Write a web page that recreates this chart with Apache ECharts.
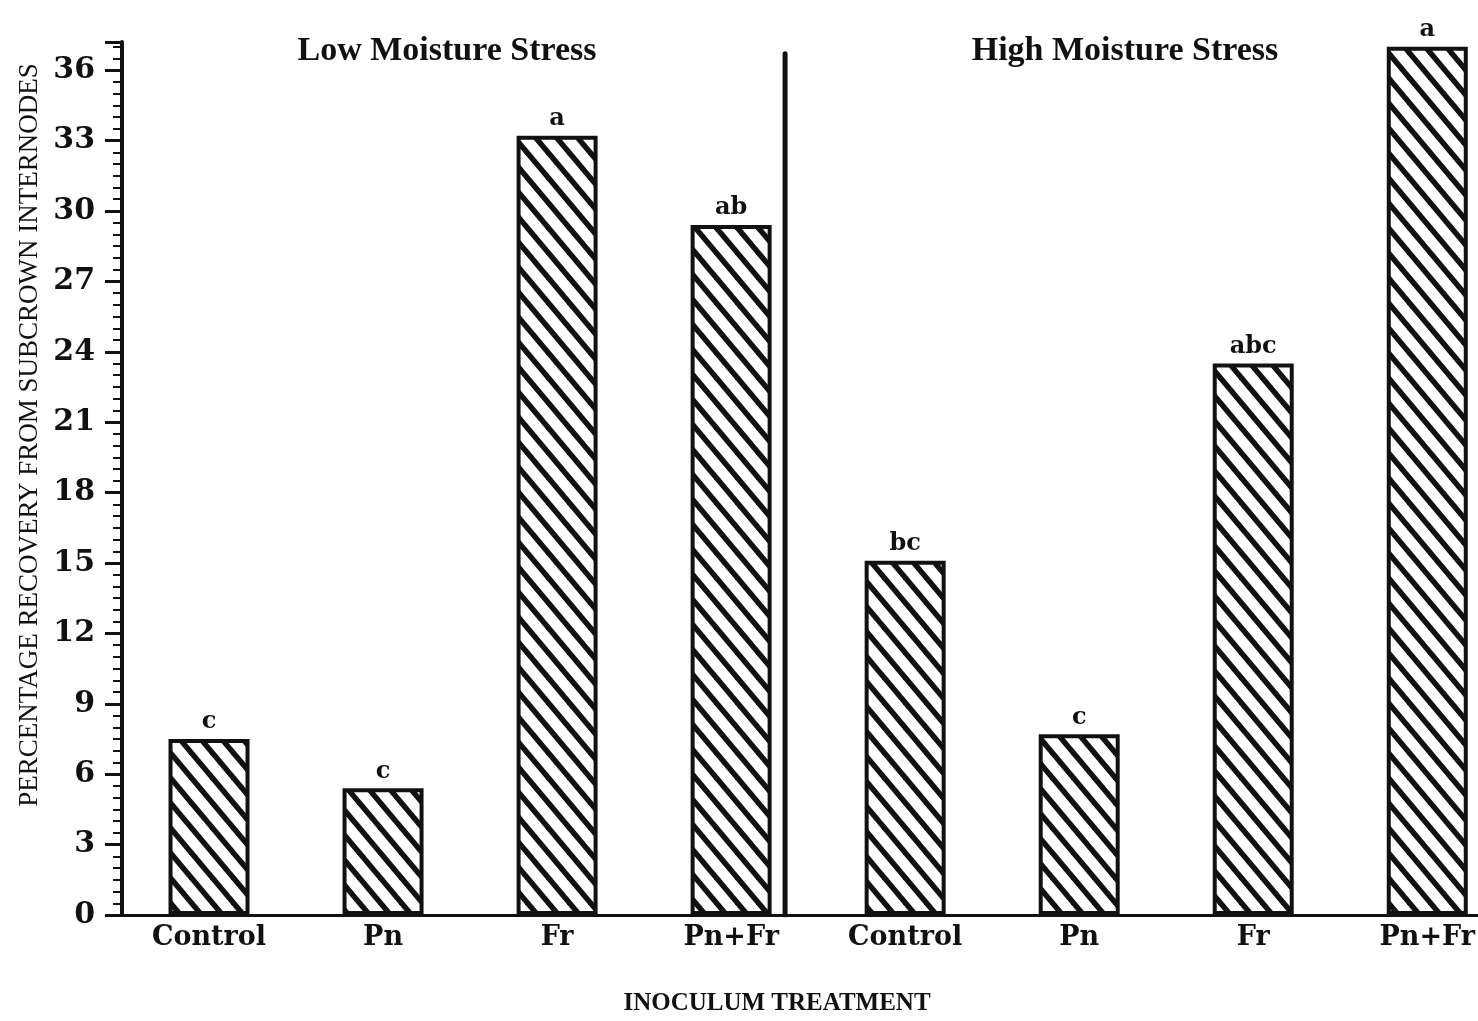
<!DOCTYPE html>
<html>
<head>
<meta charset="utf-8">
<title>Percentage recovery from subcrown internodes</title>
<script src="https://cdn.jsdelivr.net/npm/echarts@6/dist/echarts.min.js"></script>
<style>
  html, body { margin: 0; padding: 0; background: #fff; }
  #chart { width: 1478px; height: 1021px; }
</style>
</head>
<body>
<div id="chart"></div>
<script>
// Treatments, low-stress group first, then high-stress group
const categories = ['Control', 'Pn', 'Fr', 'Pn+Fr', 'Control', 'Pn', 'Fr', 'Pn+Fr'];
// Percentage recovery for each treatment
const recovery = [7.5, 5.4, 33.2, 29.4, 15.1, 7.7, 23.5, 37.0];
// Mean-separation letters printed above the bars
const letters = ['c', 'c', 'a', 'ab', 'bc', 'c', 'abc', 'a'];
// Y-axis range and tick step
const yMin = 0;
const yMax = 37.2;
const yStep = 3;

// Treatment slots run from -0.5; the plot is cut off part-way into the last slot
const xMin = -0.5;
const xMax = 7.29;

// Vertical rule separating the two stress groups (in slot units / y units)
const dividerAt = 3.31;
const dividerTop = 36.7;

const INK = '#111';
const SERIF = '"DejaVu Serif", "Liberation Serif", serif';
const TIMES = '"Liberation Serif", "DejaVu Serif", serif';

// Diagonal hatch fill for the bars
function hatchPattern() {
  const W = 21, H = 25;
  const c = document.createElement('canvas');
  c.width = W; c.height = H;
  const g = c.getContext('2d');
  g.fillStyle = '#fff';
  g.fillRect(0, 0, W, H);
  g.strokeStyle = INK;
  g.lineWidth = 5.5;
  for (const dx of [-W, 0, W]) {
    g.beginPath();
    g.moveTo(dx - W, -H);
    g.lineTo(dx + 2 * W, 2 * H);
    g.stroke();
  }
  return c;
}

const slots = categories.map((_, i) => i);
const barData = recovery.map((v, i) => [slots[i], v]);

const chart = echarts.init(document.getElementById('chart'), null, { renderer: 'canvas' });

chart.setOption({
  backgroundColor: '#fff',
  animation: false,
  title: [
    {
      text: 'Low Moisture Stress', left: 442, top: 29, textAlign: 'center',
      textStyle: { fontFamily: TIMES, fontWeight: 'bold', fontSize: 34, color: INK }
    },
    {
      text: 'High Moisture Stress', left: 1120, top: 29, textAlign: 'center',
      textStyle: { fontFamily: TIMES, fontWeight: 'bold', fontSize: 34, color: INK }
    },
    {
      text: 'INOCULUM TREATMENT', left: 772, top: 986, textAlign: 'center',
      textStyle: { fontFamily: TIMES, fontWeight: 'bold', fontSize: 25, color: INK }
    }
  ],
  graphic: [
    {
      type: 'text',
      x: 30, y: 435,
      rotation: Math.PI / 2,
      style: {
        text: 'PERCENTAGE RECOVERY FROM SUBCROWN INTERNODES',
        fontFamily: TIMES, fontSize: 27, fill: INK,
        textAlign: 'center', textVerticalAlign: 'middle'
      }
    }
  ],
  grid: { left: 122, right: 0, top: 42, bottom: 106, containLabel: false },
  xAxis: {
    type: 'value',
    min: xMin, max: xMax,
    axisLine: { show: true, onZero: false, lineStyle: { color: INK, width: 3 } },
    axisTick: { show: false },
    axisLabel: {
      customValues: slots,
      formatter: v => categories[Math.round(v)],
      margin: 9, color: INK, fontFamily: SERIF, fontWeight: 'bold', fontSize: 27
    },
    splitLine: { show: false }
  },
  yAxis: {
    type: 'value',
    min: yMin, max: yMax, interval: yStep,
    axisLine: { show: true, onZero: false, lineStyle: { color: INK, width: 4 } },
    axisTick: { show: true, length: 17, lineStyle: { color: INK, width: 3 } },
    minorTick: { show: true, splitNumber: 6, length: 9, lineStyle: { color: INK, width: 2 } },
    axisLabel: {
      margin: 27, color: INK, fontFamily: SERIF, fontWeight: 'bold', fontSize: 30,
      showMaxLabel: false
    },
    splitLine: { show: false }
  },
  series: [
    {
      type: 'bar',
      data: barData,
      barWidth: 81,
      itemStyle: {
        color: { image: hatchPattern(), repeat: 'repeat' },
        borderColor: INK,
        borderWidth: 4
      },
      label: {
        show: true,
        position: 'top',
        distance: 5,
        formatter: p => letters[p.dataIndex],
        color: INK,
        fontFamily: SERIF,
        fontWeight: 'bold',
        fontSize: 24
      },
      emphasis: { disabled: true }
    },
    {
      type: 'line',
      data: [[dividerAt, yMin], [dividerAt, dividerTop]],
      symbol: 'none',
      lineStyle: { color: INK, width: 5, cap: 'round' },
      silent: true
    }
  ]
});
</script>
</body>
</html>
